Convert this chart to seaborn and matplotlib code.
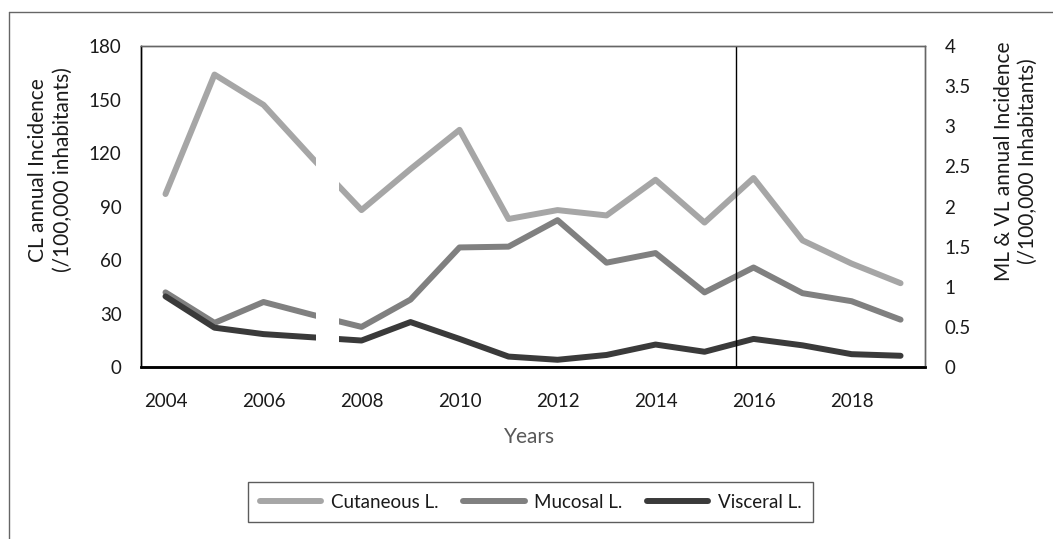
import matplotlib
matplotlib.use('Agg')
import matplotlib.pyplot as plt
import seaborn as sns
from matplotlib.lines import Line2D
from matplotlib.ticker import FuncFormatter

# Incidencia anual de leishmaniasis por forma clínica
years = list(range(2004, 2020))
cutaneous = [97, 164, 147, 117, 88, 111, 133, 83, 88, 85, 105, 81, 106, 71, 58, 47]
mucosal = [0.93, 0.55, 0.81, 0.65, 0.50, 0.84, 1.49, 1.50, 1.83, 1.30, 1.42, 0.93, 1.24, 0.92, 0.82, 0.59]
visceral = [0.88, 0.49, 0.41, 0.37, 0.33, 0.56, 0.35, 0.13, 0.09, 0.15, 0.28, 0.19, 0.35, 0.27, 0.16, 0.14]

labels = ['Cutaneous L.', 'Mucosal L.', 'Visceral L.']
colors = ['#a6a6a6', '#808080', '#3a3a3a']
left_ticks = [0, 30, 60, 90, 120, 150, 180]
right_ticks = [0, 0.5, 1, 1.5, 2, 2.5, 3, 3.5, 4]
x_ticks = [2004, 2006, 2008, 2010, 2012, 2014, 2016, 2018]
cut_line = 2015.64
gap = (2007.07, 2007.55)

sns.set_style('white')
plt.rcParams['font.family'] = ['Lato', 'DejaVu Sans']

fig = plt.figure(figsize=(10.53, 5.39), dpi=100)
ax = fig.add_axes([0.1339, 0.3191, 0.7446, 0.5955])
ax2 = ax.twinx()

lw = 4.3
sns.lineplot(x=years, y=cutaneous, ax=ax, color=colors[0], lw=lw, legend=False,
             solid_capstyle='round')
sns.lineplot(x=years, y=mucosal, ax=ax2, color=colors[1], lw=lw, legend=False,
             solid_capstyle='round')
sns.lineplot(x=years, y=visceral, ax=ax2, color=colors[2], lw=lw, legend=False,
             solid_capstyle='round')

ax.set_xlim(2003.5, 2019.5)
ax.set_ylim(0, 180)
ax2.set_ylim(0, 4)
ax.set_xticks(x_ticks)
ax.set_yticks(left_ticks)
ax2.set_yticks(right_ticks)
ax2.yaxis.set_major_formatter(FuncFormatter(lambda v, _: f'{v:g}'))

txt = '#1a1a1a'
ax.tick_params(axis='x', length=0, pad=19, labelsize=13.5, labelcolor=txt)
ax.tick_params(axis='y', length=0, pad=14, labelsize=13.5, labelcolor=txt)
ax2.tick_params(axis='y', length=0, pad=14, labelsize=13.5, labelcolor=txt)

# hueco blanco sobre las líneas y línea vertical de corte
ax2.axvspan(gap[0], gap[1], ymin=0.008, ymax=0.985, color='white', zorder=2.2, lw=0)
ax2.axvline(cut_line, color='black', lw=1, zorder=2.3)

for a in (ax, ax2):
    a.spines['left'].set_color('black')
    a.spines['left'].set_linewidth(1.0)
    a.spines['bottom'].set_color('black')
    a.spines['bottom'].set_linewidth(1.8)
    a.spines['top'].set_color('#666666')
    a.spines['right'].set_color('#666666')
    a.spines['top'].set_linewidth(1.0)
    a.spines['right'].set_linewidth(1.0)

ax.set_ylabel('CL annual Incidence\n(/100,000 inhabitants)', fontsize=15,
              color=txt, multialignment='center', linespacing=1.3)
ax.yaxis.label.set_verticalalignment('center')
ax.yaxis.set_label_coords(-0.116, 0.614)
ax2.set_ylabel('ML & VL annual Incidence\n(/100,000 Inhabitants)', fontsize=15,
               color=txt, multialignment='center', linespacing=1.25,
               rotation=90)
ax2.yaxis.label.set_verticalalignment('center')
ax2.yaxis.set_label_coords(1.116, 0.64)

fig.text(530 / 1053, 1 - 437 / 539, 'Years', ha='center', va='center',
         fontsize=15, color='#595959')

handles = [Line2D([0], [0], color=c, lw=lw, solid_capstyle='round') for c in colors]
leg = fig.legend(handles, labels, loc='center', bbox_to_anchor=(530.5 / 1053, 1 - 502 / 539),
                 ncol=3, fontsize=13.5, frameon=True, fancybox=False, handlelength=3.3,
                 columnspacing=1.3, handletextpad=0.5, borderpad=0.6)
leg.get_frame().set_edgecolor('#333333')
leg.get_frame().set_linewidth(1.0)
for t in leg.get_texts():
    t.set_color(txt)

# borde del gráfico (solo arriba e izquierda visibles)
fig.add_artist(Line2D([9 / 1053, 9 / 1053], [0, 1 - 12 / 539], color='#666666', lw=1,
                      transform=fig.transFigure))
fig.add_artist(Line2D([9 / 1053, 1], [1 - 12 / 539, 1 - 12 / 539], color='#666666', lw=1,
                      transform=fig.transFigure))

fig.savefig('out.png', dpi=100)
